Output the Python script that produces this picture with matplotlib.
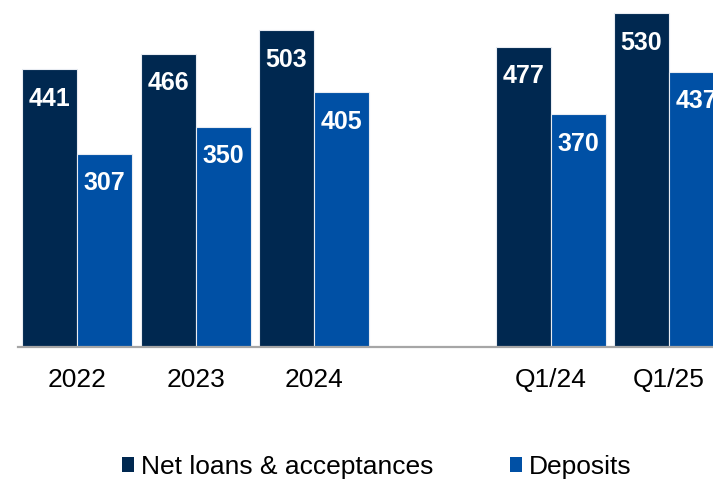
import matplotlib
matplotlib.use("Agg")
import matplotlib.pyplot as plt
from matplotlib.patches import Patch

# Data (C$ billions)
categories = ["2022", "2023", "2024", "Q1/24", "Q1/25"]
slots = [0, 1, 2, 4, 5]          # gap between annual and quarterly groups
net_loans = [441, 466, 503, 477, 530]
deposits = [307, 350, 405, 370, 437]
series_names = ["Net loans & acceptances", "Deposits"]

navy = "#002850"
blue = "#0050A5"

plt.rcParams["font.family"] = ["Liberation Sans", "DejaVu Sans"]

fig = plt.figure(figsize=(7.13, 4.80), dpi=100)
ax = fig.add_axes([18 / 713, 1 - 347 / 480, 1 - 18 / 713, 347 / 480])

w = 0.465
x1 = [s - w / 2 for s in slots]
x2 = [s + w / 2 for s in slots]
b1 = ax.bar(x1, net_loans, width=w, color=navy, edgecolor="#e8ecf2", linewidth=0.8)
b2 = ax.bar(x2, deposits, width=w, color=blue, edgecolor="#e8ecf2", linewidth=0.8)

for bars, vals in ((b1, net_loans), (b2, deposits)):
    for rect, v in zip(bars, vals):
        ax.annotate(f"{v}", (rect.get_x() + rect.get_width() / 2, v),
                    xytext=(0, -36.5), textcoords="offset pixels",
                    ha="center", va="baseline", color="white",
                    fontsize=18, fontweight="bold")

ax.set_xlim(-0.5, (713 - 77) / 118.4)
ax.set_ylim(0, 347 / 0.6295)
ax.set_xticks(slots)
ax.set_xticklabels(categories, fontsize=19)
ax.tick_params(axis="x", length=0, pad=15)
ax.set_yticks([])
for side in ("top", "right", "left"):
    ax.spines[side].set_visible(False)
ax.spines["bottom"].set_color("#a6a6a6")
ax.spines["bottom"].set_linewidth(1.6)

handles = [Patch(facecolor=navy, edgecolor="none"), Patch(facecolor=blue, edgecolor="none")]
fig.legend(handles, series_names, loc="center", bbox_to_anchor=(377 / 713, 1 - 467 / 480),
           ncol=2, frameon=False, fontsize=19, handlelength=0.46, handleheight=0.46,
           handletextpad=0.26, columnspacing=2.9, borderpad=0)

fig.savefig("out.png", dpi=100)
